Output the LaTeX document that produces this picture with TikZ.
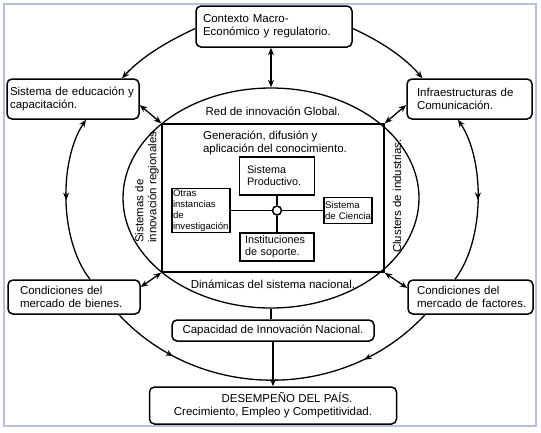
\documentclass[tikz,border=0pt]{standalone}
\usepackage{fontspec}
\setmainfont{Liberation Sans}
\usetikzlibrary{arrows.meta,shapes.geometric,decorations.markings}
\definecolor{framegray}{RGB}{184,192,220}

\begin{document}
\begin{tikzpicture}[x=1pt, y=-1pt,
    >={Stealth[length=7.5pt,width=6pt]},
    box/.style={draw, rounded corners=5pt, line width=1.5pt, align=left, inner ysep=0pt, font=\fontsize{11.5}{13}\selectfont},
    sbox/.style={draw, line width=1.5pt, align=left, inner ysep=0pt, font=\fontsize{10.8}{12}\selectfont},
    tinybox/.style={draw, line width=1.5pt, align=left, inner sep=1pt, font=\fontsize{9.6}{11}\selectfont},
    lbl/.style={font=\fontsize{11.5}{13}\selectfont, inner sep=0pt},
    conn/.style={line width=1.3pt},
    midarrow/.style={postaction={decorate}, decoration={markings, mark=at position #1 with {\arrow{>}}}},
    twomid/.style={postaction={decorate}, decoration={markings,
        mark=at position 0.2 with {\arrow{>}}, mark=at position 0.8 with {\arrow{<}}}}]
    \useasboundingbox (0,0) rectangle (541,432);
    \draw [framegray, line width=2pt] (4,4) rectangle (536,426);

    \node [box, text width=142pt, inner xsep=7pt, minimum height=41pt] (ctx) at (274,26.5) {Contexto Macro-\\Económico y regulatorio.};
    \node [box, text width=130pt, inner xsep=1pt, minimum height=40pt] (edu) at (73,99) {\hspace*{2pt}Sistema de educación y\\\hspace*{2pt}capacitación.};
    \node [box, text width=105pt, inner xsep=10pt, minimum height=40pt] (infra) at (469.5,99) {Infraestructuras de\\Comunicación.};
    \node [box, text width=108pt, inner xsep=12pt, minimum height=34pt] (bien) at (74,297) {Condiciones del\\mercado de bienes.};
    \node [box, text width=115pt, inner xsep=5pt, minimum height=34pt] (fact) at (470.5,297) {\hspace*{4pt}Condiciones del\\\hspace*{4pt}mercado de factores.};
    \node [box, align=center, minimum width=202pt, minimum height=21pt] (cap) at (273,330.5) {Capacidad de Innovación Nacional.};
    \node [box, align=center, minimum width=247pt, minimum height=37pt] (des) at (273,405.5) {\hspace*{28pt}DESEMPEÑO DEL PAÍS.\\Crecimiento, Empleo y Competitividad.};

    \node [draw, ellipse, conn, minimum width=296pt, minimum height=220pt, inner sep=0pt] (glob) at (271,198) {};
    \node [draw, line width=1.5pt, minimum width=222pt, minimum height=148pt, inner sep=0pt] (nat) at (273,198) {};

    \node [lbl] (red) at (273,111) {Red de innovación Global.};
    \node [lbl, align=left] (gen) at (275,143) {Generación, difusión y\\aplicación del conocimiento.};
    \node [lbl] (din) at (273,284) {Dinámicas del sistema nacional.};
    \node [lbl, rotate=90, anchor=west, align=left] (reg) at (147,243) {Sistemas de\\innovación regionales.};
    \node [lbl, rotate=90] (clu) at (397,196) {Clusters de industrias.};

    \node [sbox, text width=60pt, inner xsep=7.5pt, minimum height=38pt] (prod) at (277,176) {Sistema\\Productivo.};
    \node [tinybox, text width=56pt, minimum height=35pt] (otr) at (201,210.5) {Otras\\instancias de\\investigación};
    \node [tinybox, text width=46pt, minimum height=26pt] (cien) at (348,210.5) {Sistema\\de Ciencia};
    \node [sbox, text width=64pt, inner xsep=5pt, minimum height=28pt] (inst) at (277,247) {Instituciones\\de soporte.};
    \node [draw, circle, line width=1.5pt, fill=white, minimum size=9pt, inner sep=0pt] (hub) at (277,210.5) {};
    \draw [conn] (hub) -- (prod);
    \draw [conn] (hub) -- (inst);
    \draw [conn] (hub) -- (otr);
    \draw [conn] (hub) -- (cien);

    \draw [conn, <->] (ctx.south -| glob.north) -- (glob.north);
    \draw [conn, <->] ([yshift=-6pt]edu.east) -- (nat.north west);
    \draw [conn, <->] ([yshift=-6pt]infra.west) -- (nat.north east);
    \draw [conn, <->] ([yshift=10pt]bien.east) -- (nat.south west);
    \draw [conn, <->] ([yshift=9pt]fact.west) -- (nat.south east);
    \draw [conn] (glob.south) -- (glob.south |- cap.north);
    \draw [conn, ->] (cap) -- (des);

    \draw [conn, ->] ([yshift=-2pt]ctx.west) .. controls (168,41) and (142,56.5) .. ([xshift=49pt]edu.north);
    \draw [conn, ->] ([yshift=-2pt]ctx.east) .. controls (380,41) and (404,56.5) .. ([xshift=-47pt]infra.north);
    \draw [conn, <-, midarrow=0.5] ([xshift=13pt]edu.south) .. controls (59,160) and (59,240) .. ([xshift=16pt]bien.north);
    \draw [conn, <-, midarrow=0.5] ([xshift=-11.5pt]infra.south) .. controls (485,160) and (485,240) .. ([xshift=-15.5pt]fact.north);
    \draw [conn, twomid] ([xshift=45pt]bien.south) .. controls (200,402) and (344,402) .. ([xshift=-45.5pt]fact.south);
\end{tikzpicture}
\end{document}
